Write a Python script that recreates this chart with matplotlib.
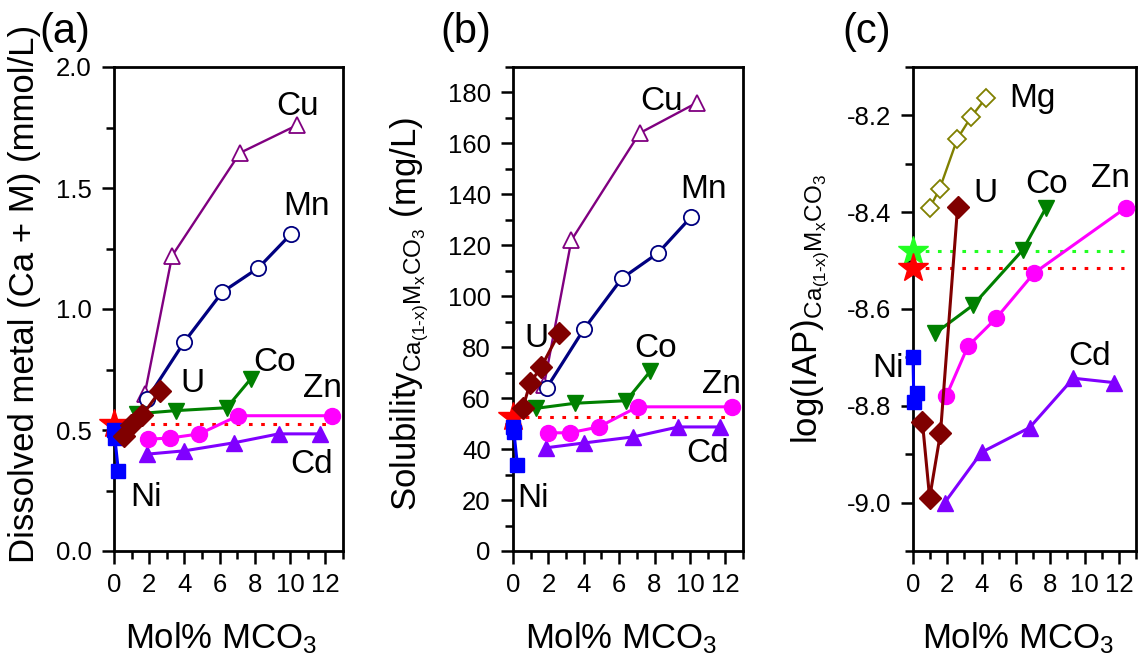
import numpy as np
import matplotlib
matplotlib.use('Agg')
import matplotlib.pyplot as plt
from matplotlib.ticker import MultipleLocator, FormatStrFormatter

plt.rcParams['font.family'] = ['Liberation Sans', 'DejaVu Sans']
plt.rcParams['mathtext.fontset'] = 'custom'
plt.rcParams['mathtext.rm'] = 'Liberation Sans'
plt.rcParams['mathtext.it'] = 'Liberation Sans'
plt.rcParams['mathtext.default'] = 'regular'
plt.rcParams['axes.unicode_minus'] = False

# Données (x = mol% MCO3)
# a : métal dissous (mmol/L), b : solubilité (mg/L), c : log(IAP)
cu_x = [1.75, 3.3, 7.15, 10.4]
cu_a = [0.65, 1.22, 1.645, 1.76]
cu_b = [65, 122, 164, 176]

mn_x = [1.9, 4.0, 6.15, 8.2, 10.05]
mn_a = [0.63, 0.865, 1.07, 1.17, 1.31]
mn_b = [64, 87, 107, 117, 131]

co_x = [1.3, 3.5, 6.4, 7.75]
co_a = [0.567, 0.58, 0.592, 0.71]
co_b = [56, 58, 59, 70.5]
co_c = [-8.65, -8.592, -8.478, -8.391]

zn_x = [1.95, 3.2, 4.85, 7.05, 12.4]
zn_a = [0.462, 0.467, 0.484, 0.559, 0.559]
zn_b = [46.4, 46.4, 48.7, 56.6, 56.6]
zn_c = [-8.779, -8.677, -8.619, -8.526, -8.391]

cd_x = [1.85, 4.0, 6.8, 9.35, 11.7]
cd_a = [0.40, 0.414, 0.447, 0.484, 0.484]
cd_b = [40.5, 42.4, 44.8, 48.7, 48.7]
cd_c = [-9.0, -8.896, -8.845, -8.743, -8.752]

ni_x = [0.0, 0.05, 0.25]
ni_a = [0.50, 0.465, 0.331]
ni_b = [48.7, 46.8, 33.8]
ni_c = [-8.70, -8.793, -8.774]

u_x = [0.55, 0.97, 1.6, 2.6]
u_a = [0.475, 0.52, 0.56, 0.66]
u_b = [56, 66, 72.3, 85.5]
u_c = [-8.834, -8.99, -8.857, -8.389]

mg_x = [0.98, 1.55, 2.59, 3.39, 4.25]
mg_c = [-8.391, -8.352, -8.248, -8.203, -8.164]

# calcite pure (étoile rouge) et valeur verte du panneau c
ref_a = 0.525
ref_b = 52.5
ref_c = -8.515
ref_c2 = -8.48

# positions des étiquettes (x, y de la ligne de base) par panneau
lab_a = {'Cu': (10.4, 1.80), 'Mn': (10.9, 1.387), 'U': (4.47, 0.655), 'Co': (9.1, 0.745),
         'Zn': (11.83, 0.635), 'Cd': (11.2, 0.324), 'Ni': (1.82, 0.186)}
lab_b = {'Cu': (8.38, 173.3), 'Mn': (10.75, 138.7), 'U': (1.3, 80.0), 'Co': (8.04, 76.3),
         'Zn': (11.77, 62), 'Cd': (10.98, 35.1), 'Ni': (1.13, 17.4)}
lab_c = {'Mg': (6.95, -8.182), 'U': (4.2, -8.379), 'Co': (7.76, -8.36), 'Zn': (11.5, -8.348),
         'Cd': (10.3, -8.716), 'Ni': (-1.44, -8.741)}

fig = plt.figure(figsize=(11.38, 6.58), dpi=100)
W, H = 1138, 658
def box(x0, x1, y0=67, y1=551):
    return [x0 / W, 1 - y1 / H, (x1 - x0) / W, (y1 - y0) / H]

axa = fig.add_axes(box(114, 343))
axb = fig.add_axes(box(513, 743))
axc = fig.add_axes(box(913, 1136))


def serie(ax, x, y, m, col, ms, lw=2.2, ouvert=False):
    fc = 'white' if ouvert else col
    ax.plot(x, y, marker=m, color=col, mfc=fc, mec=col, ms=ms, lw=lw,
            mew=1.3 if ouvert else 1.0, clip_on=False, zorder=4)


def reference(ax, y, col):
    ax.plot([0, 12.3], [y, y], color=col, lw=2.2, ls=(0, (1.2, 2.8)), zorder=2)
    ax.plot([0], [y], marker='*', color=col, ms=22, mec=col, clip_on=False, zorder=3)


def trace(ax, cu, mn, co, zn, cd, ni, u):
    if cu is not None:
        serie(ax, cu_x, cu, '^', '#800080', 12, lw=1.7, ouvert=True)
        serie(ax, mn_x, mn, 'o', '#000080', 11, lw=2.3, ouvert=True)
    serie(ax, cd_x, cd, '^', '#8000FF', 12)
    serie(ax, zn_x, zn, 'o', '#FF00FF', 11.5)
    serie(ax, co_x, co, 'v', '#008000', 12)
    serie(ax, ni_x, ni, 's', '#0000FF', 10)
    serie(ax, u_x, u, 'D', '#800000', 11)


def style(ax, ylo, yhi, maj, mnr, fmt):
    ax.set_xlim(0, 13)
    ax.set_ylim(ylo, yhi)
    ax.xaxis.set_major_locator(MultipleLocator(2))
    ax.xaxis.set_minor_locator(MultipleLocator(1))
    ax.yaxis.set_major_locator(MultipleLocator(maj))
    ax.yaxis.set_minor_locator(MultipleLocator(mnr))
    ax.yaxis.set_major_formatter(FormatStrFormatter(fmt))
    ax.tick_params(which='both', direction='out', top=False, right=False,
                   width=1.8, labelsize=18.5, pad=7)
    ax.tick_params(which='major', length=9)
    ax.tick_params(which='minor', length=5.5)
    for s in ax.spines.values():
        s.set_linewidth(2)
    ax.set_xlabel('Mol% MCO$_3$', fontsize=25, va='baseline')
    ax.xaxis.set_label_coords(0.47, -0.2)


def etiquettes(ax, labs):
    for k, (x, y) in labs.items():
        ax.text(x, y, k, fontsize=24, ha='center', va='baseline')


# (a)
reference(axa, ref_a, '#FF0000')
trace(axa, cu_a, mn_a, co_a, zn_a, cd_a, ni_a, u_a)
style(axa, 0, 2.0, 0.5, 0.25, '%.1f')
etiquettes(axa, lab_a)
axa.set_ylabel('Dissolved metal (Ca + M) (mmol/L)', fontsize=25, va='center')
axa.yaxis.set_label_coords(-0.389, 0.531)

# (b)
reference(axb, ref_b, '#FF0000')
trace(axb, cu_b, mn_b, co_b, zn_b, cd_b, ni_b, u_b)
style(axb, 0, 190, 20, 10, '%d')
etiquettes(axb, lab_b)
axb.set_ylabel(r'Solubility$_{Ca_{(1\text{-}x)}M_{x}CO_{3}}$ (mg/L)', fontsize=25, va='center')
axb.yaxis.set_label_coords(-0.45, 0.49)

# (c)
reference(axc, ref_c2, '#22FF22')
reference(axc, ref_c, '#FF0000')
trace(axc, None, None, co_c, zn_c, cd_c, ni_c, u_c)
serie(axc, mg_x, mg_c, 'D', '#808000', 9, lw=1.7, ouvert=True)
style(axc, -9.1, -8.1, 0.2, 0.1, '%.1f')
etiquettes(axc, lab_c)
axc.set_ylabel(r'log(IAP)$_{Ca_{(1\text{-}x)}M_{x}CO_{3}}$', fontsize=25, va='center')
axc.yaxis.set_label_coords(-0.457, 0.50)

for lettre, px in zip(['(a)', '(b)', '(c)'], [65, 466, 867]):
    fig.text(px / W, 1 - 32 / H, lettre, fontsize=30, ha='center', va='center')

fig.savefig('out.png', dpi=100)
